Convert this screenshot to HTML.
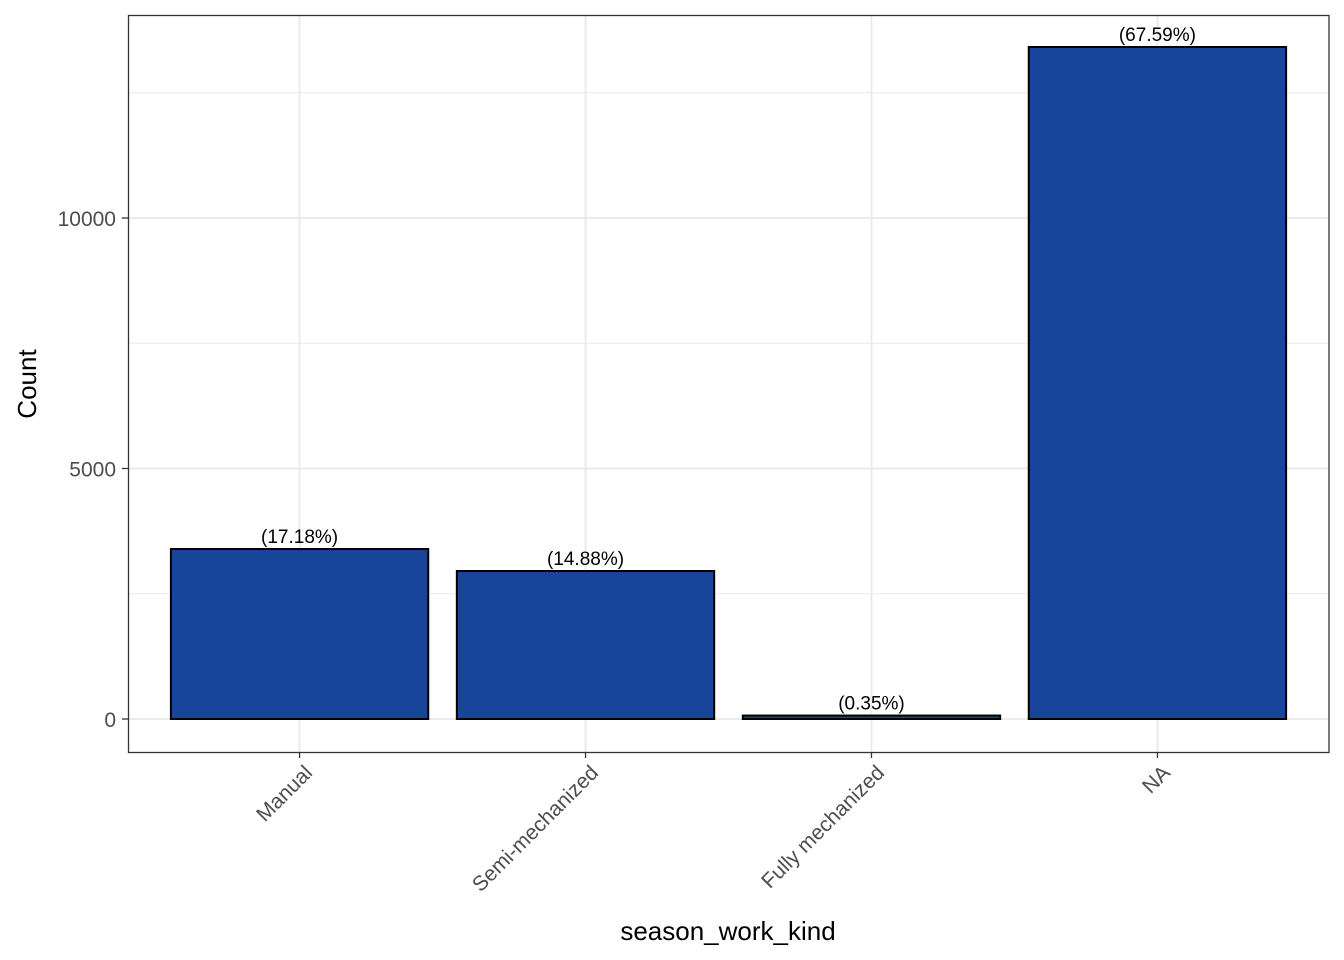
<!DOCTYPE html>
<html><head><meta charset="utf-8"><style>
body{margin:0;background:#fff;}
svg{display:block;font-family:"Liberation Sans",Arial,sans-serif;}
</style></head><body>
<svg id="chart" width="1344" height="960">
<rect x="0" y="0" width="1344" height="960" fill="#fff"/>
<g id="grid"></g><g id="bars"></g><g id="labels"></g><g id="axes"></g>
<rect x="128.5" y="15.5" width="1200.5" height="737" fill="none" stroke="#333" stroke-width="1.3"/>
<text x="728" y="940" text-anchor="middle" font-size="26" fill="#000">season_work_kind</text>
<text transform="translate(36,384) rotate(-90)" text-anchor="middle" font-size="26" fill="#000">Count</text>
</svg>
<script>
const categories = ["Manual","Semi-mechanized","Fully mechanized","NA"];
const counts = [3393, 2954, 69, 13413];
const pctLabels = ["(17.18%)","(14.88%)","(0.35%)","(67.59%)"];
const yTicks = [0, 5000, 10000];
const NS="http://www.w3.org/2000/svg";
const x0=128, x1=1329, yTop=15, yBot=752;
function xs(i){return x0+(i+1-0.4)/4.2*(x1-x0);}
function ys(v){return 719 - v*(501/10000);}
const bw=0.9/4.2*(x1-x0);
function mk(tag,attrs,parent){const e=document.createElementNS(NS,tag);for(const k in attrs)e.setAttribute(k,attrs[k]);document.getElementById(parent).appendChild(e);return e;}
// minor grid
for(let k=0;k<yTicks.length;k++){
  const v=yTicks[k]+2500;
  const l=mk("line",{x1:x0,x2:x1,y1:ys(v),y2:ys(v),stroke:"#ebebeb","stroke-width":1},"grid");
  
  
}
yTicks.forEach(v=>{
  const l=mk("line",{x1:x0,x2:x1,y1:ys(v),y2:ys(v),stroke:"#ebebeb","stroke-width":2},"grid");
  
  
  const t=mk("line",{x1:x0-6,x2:x0,y1:ys(v),y2:ys(v),stroke:"#333","stroke-width":1.3},"axes");
  
  
  const tx=mk("text",{x:x0-12,y:ys(v)+8,"text-anchor":"end","font-size":21,fill:"#4d4d4d"},"axes");
  tx.textContent=v;
  
  
});
categories.forEach((c,i)=>{
  const cx=xs(i);
  const g=mk("line",{x1:cx,x2:cx,y1:yTop,y2:yBot,stroke:"#ebebeb","stroke-width":2},"grid");
  
  
  const r=mk("rect",{x:cx-bw/2,y:ys(counts[i]),width:bw,height:ys(0)-ys(counts[i]),fill:"#184499",stroke:"#000","stroke-width":2},"bars");
  
  
  const lb=mk("text",{x:cx,y:ys(counts[i])-6,"text-anchor":"middle","font-size":19,fill:"#000"},"labels");
  lb.textContent=pctLabels[i];
  
  
  const t=mk("line",{x1:cx,x2:cx,y1:yBot,y2:yBot+6,stroke:"#333","stroke-width":1.3},"axes");
  
  
  const tx=mk("text",{transform:`translate(${cx+14},${yBot+22}) rotate(-45)`,"text-anchor":"end","font-size":21,fill:"#4d4d4d"},"axes");
  tx.textContent=c;
  
  
});
</script>
</body></html>
